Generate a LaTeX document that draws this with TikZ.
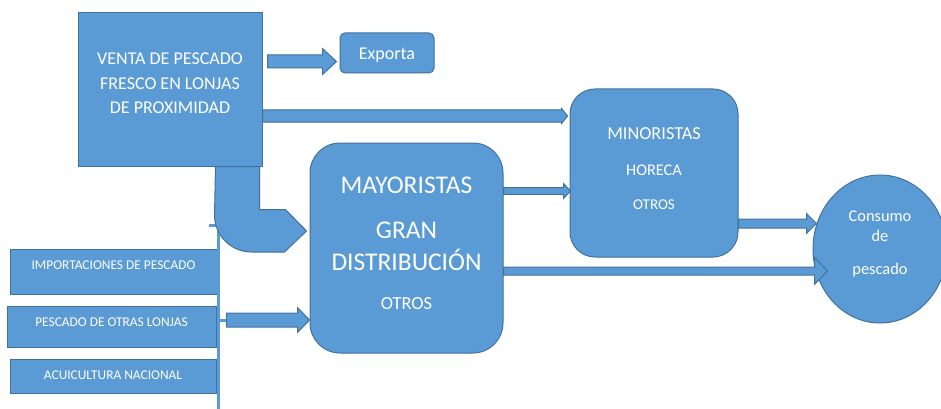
\documentclass[tikz,border=0pt]{standalone}
\usepackage{fontspec}
\setmainfont{Carlito}
\usetikzlibrary{calc, shapes.geometric}

\definecolor{boxfill}{HTML}{5B9BD5}
\definecolor{boxline}{HTML}{41719C}

\newcommand{\blockarrow}[5]{%
  \draw[blockarr] let \p1=(#1), \p2=(#2) in
    (\x1,\y1+#3pt) -- (\x2-#5pt,\y1+#3pt) -- (\x2-#5pt,\y1+#4pt) -- (\x2,\y1)
    -- (\x2-#5pt,\y1-#4pt) -- (\x2-#5pt,\y1-#3pt) -- (\x1,\y1-#3pt) -- cycle;}

\begin{document}
\begin{tikzpicture}[
  x=1pt, y=-1pt,
  box/.style={draw=boxline, line width=1pt, fill=boxfill, text=white,
    inner sep=0pt, align=center},
  source/.style={box, font=\fontsize{13.4}{16}\selectfont},
  blockarr/.style={draw=boxline, line width=1pt, fill=boxfill},
  bus/.style={draw=boxfill, line width=3pt}
]
  \useasboundingbox (0,0) rectangle (941,409);

  \node[box, minimum width=184pt, minimum height=153pt, font=\fontsize{18}{24.2}\selectfont,
    text height=51.6pt, text depth=4pt] (venta) at (170,89.5)
    {VENTA DE PESCADO\\FRESCO EN LONJAS\\DE PROXIMIDAD};
  \node[box, rounded corners=5pt, minimum width=94pt, minimum height=40pt,
    font=\fontsize{18}{22}\selectfont, text height=14pt, text depth=0pt] (exporta) at (387,53) {Exporta};
  \node[box, rounded corners=30pt, minimum width=193pt, minimum height=210pt,
    font=\fontsize{25.5}{31.4}\selectfont, text height=126pt, text depth=4pt] (mayor) at (406.5,248)
    {MAYORISTAS\\[14.1pt]GRAN\\DISTRIBUCIÓN\\[7.6pt]{\fontsize{18.5}{22}\selectfont OTROS}};
  \node[box, rounded corners=25pt, minimum width=168pt, minimum height=168pt,
    font=\fontsize{18.3}{36}\selectfont, text height=76pt, text depth=4pt] (minor) at (654,173)
    {MINORISTAS\\{\fontsize{16.3}{20}\selectfont HORECA}\\[-2pt]{\fontsize{15}{18}\selectfont OTROS}};
  \node[box, ellipse, minimum width=134pt, minimum height=148pt,
    font=\fontsize{16.4}{20}\selectfont, text height=54.6pt, text depth=4pt] (consumo) at (880,249)
    {Consumo\\de\\[13.3pt]pescado};

  \node[source, minimum width=207pt, minimum height=45pt, text height=9pt, text depth=14pt]
    (impo) at (113.5,271.5) {IMPORTACIONES DE PESCADO};
  \node[source, minimum width=209pt, minimum height=41pt, text height=9pt, text depth=10pt]
    (otras) at (111.5,326.5) {PESCADO DE OTRAS LONJAS};
  \node[source, minimum width=206pt, minimum height=34pt, text height=12pt, text depth=6pt]
    (acui) at (113,376) {ACUICULTURA NACIONAL};

  \coordinate (bustop) at (218,225);
  \coordinate (busend) at (218,409);
  \coordinate (feed) at ($(otras.east)+(10,-6.5)$);
  \draw[bus] ([xshift=-9pt]bustop) -- (bustop) -- (busend);
  \draw[bus] (feed -| bustop) -- (feed);

  \blockarrow{$(venta.east)+(5,-28)$}{$(exporta.west)+(-3,0)$}{6.5}{13}{14}
  \blockarrow{$(venta.east)+(0,26.5)$}{$(minor.west)+(-2,0)$}{6}{7.5}{6}
  \blockarrow{$(mayor.east)+(0,-57)$}{$(minor.west)+(1,0)$}{3.3}{7.5}{7}
  \blockarrow{$(minor.east)+(0,50.5)$}{$(consumo.west)+(4,0)$}{4.5}{10}{10}
  \blockarrow{$(mayor.east)+(0,23)$}{$(consumo.west)+(15,0)$}{4}{13.5}{13}
  \blockarrow{feed}{mayor.west}{7}{12.5}{12}

  \draw[blockarr] ($(venta.south east)+(-47,0)$) -- ++(44,0) -- ++(0,43) -- ++(26,0)
    -- ($(mayor.west)+(-3,-17)$) -- ++(-22,21) -- ++(-33,0)
    arc[start angle=90, end angle=180, radius=37] -- cycle;
\end{tikzpicture}
\end{document}
